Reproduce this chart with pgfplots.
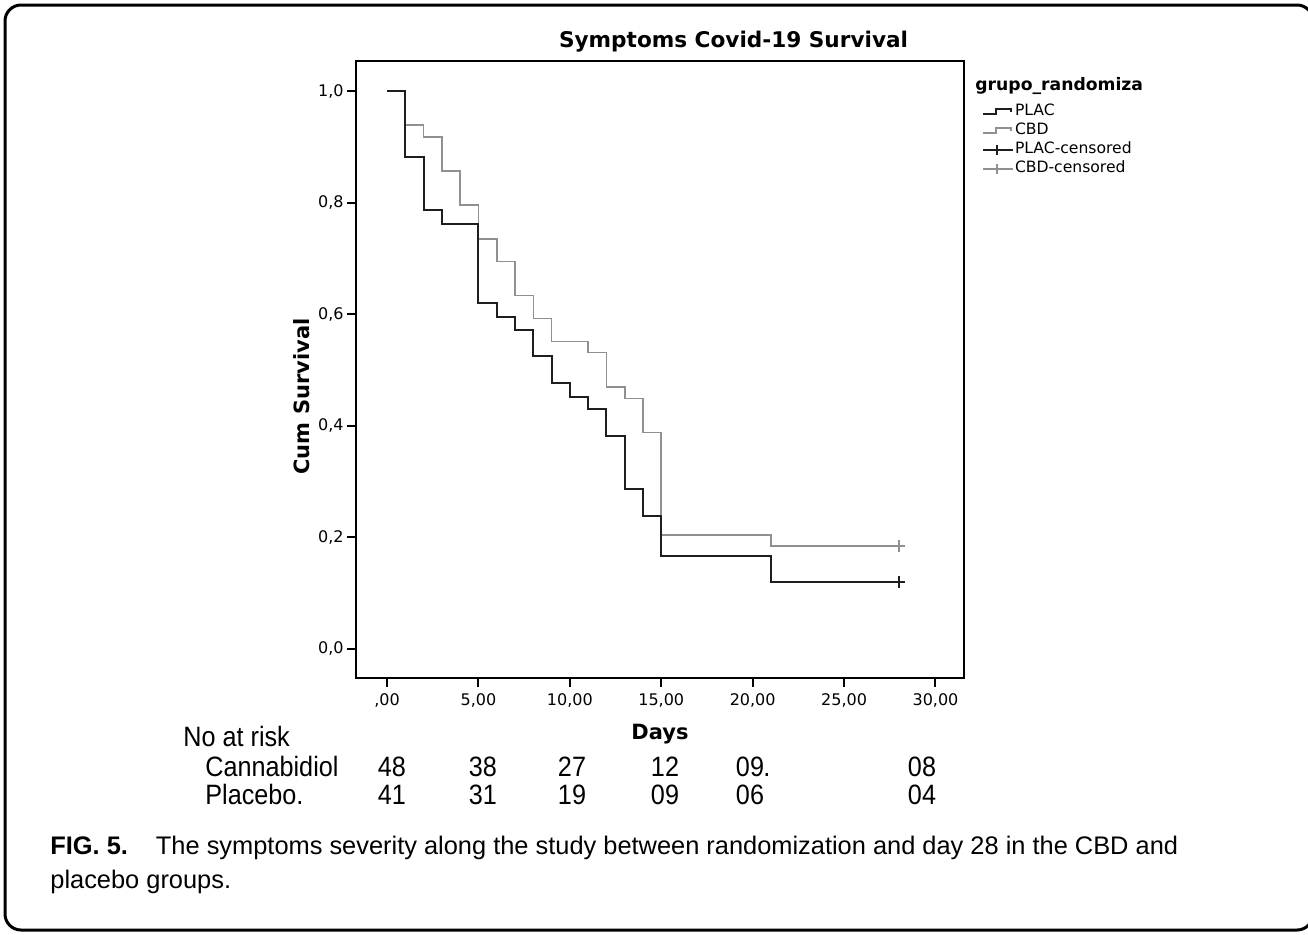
\documentclass[border=0pt]{standalone}
\usepackage{pgfplots}
\pgfplotsset{compat=1.18}
\usepackage{fontspec}
\setmainfont{DejaVu Sans}
\newfontfamily\riskfont[FakeStretch=0.9]{Liberation Sans}
\newfontfamily\capfont{Liberation Sans}
\definecolor{plac}{HTML}{1E1E1E}
\definecolor{cbd}{HTML}{909090}
\begin{document}
\begin{tikzpicture}[x=0.5pt,y=-0.5pt]
\useasboundingbox (0,0) rectangle (1308,934);
\draw[line width=1.5pt, rounded corners=8pt] (5,5) rectangle (1313,930);
\begin{axis}[
  at={(178pt,-339pt)}, anchor=south west,
  scale only axis, width=304pt, height=308.65pt,
  xmin=-1.7, xmax=31.56, ymin=-0.0525, ymax=1.0543,
  axis line style={line width=1pt, black},
  xtick={0,5,10,15,20,25,30},
  xticklabels={{,00},{5,00},{10,00},{15,00},{20,00},{25,00},{30,00}},
  ytick={0,0.2,0.4,0.6,0.8,1},
  yticklabels={{0,0},{0,2},{0,4},{0,6},{0,8},{1,0}},
  tick align=outside, xtick pos=left, ytick pos=left,
  major tick length=4.5pt,
  tick style={line width=1pt, black},
  tick label style={font=\fontsize{8}{9}\selectfont},
  yticklabel style={inner sep=1.5pt},
  clip=false,
  title={Symptoms Covid-19 Survival},
  title style={at={(axis description cs:0.621,1.002)}, anchor=base, font=\bfseries\fontsize{10.8}{12}\selectfont},
  xlabel={Days},
  xlabel style={at={(axis description cs:0.5,-0.1)}, anchor=base, font=\bfseries\fontsize{10.5}{12}\selectfont},
  ylabel={Cum Survival},
  ylabel style={at={(axis description cs:-0.0888,0.456)}, anchor=center, font=\bfseries\fontsize{10.5}{12}\selectfont},
  legend style={at={(axis description cs:1.0296,0.931)}, anchor=north west, draw=none, fill=none,
    font=\fontsize{7.8}{9}\selectfont, inner sep=0pt, row sep=1.5pt,
    nodes={inner sep=0.5pt, text height=5.6pt, text depth=1.4pt}},
  legend cell align=left,
]
\addplot[const plot, cbd, line width=0.8pt, forget plot] coordinates {
(0,1)(1,0.939)(2,0.918)(3,0.857)(4,0.796)(5,0.735)(6,0.694)(7,0.633)(8,0.592)(9,0.551)(11,0.531)(12,0.469)(13,0.449)(14,0.388)(15,0.204)(21,0.184)(28,0.184)};
\addplot[const plot, plac, line width=1pt,
  legend image code/.code={\draw[plac,line width=0.8pt] (0pt,-1.2pt) -- (6.5pt,-1.2pt) -- (6.5pt,1.3pt) -- (14pt,1.3pt) -- (14pt,-0.2pt);}] coordinates {
(0,1)(1,0.881)(2,0.786)(3,0.762)(5,0.619)(6,0.595)(7,0.571)(8,0.524)(9,0.476)(10,0.452)(11,0.429)(12,0.381)(13,0.286)(14,0.238)(15,0.167)(21,0.119)(28,0.119)};
\addlegendentry{PLAC}
\addlegendimage{legend image code/.code={\draw[cbd,line width=0.8pt] (0pt,-1.2pt) -- (6.5pt,-1.2pt) -- (6.5pt,1.3pt) -- (14pt,1.3pt) -- (14pt,-0.2pt);}}
\addlegendentry{CBD}
\addplot[only marks, mark=+, plac, mark size=3pt, line width=1pt,
  legend image code/.code={\draw[plac,line width=0.8pt] (0pt,0pt) -- (15pt,0pt); \draw[plac,line width=0.8pt] (7pt,-2.6pt) -- (7pt,2.6pt);}] coordinates {(28,0.119)};
\addlegendentry{PLAC-censored}
\addplot[only marks, mark=+, cbd, mark size=3pt, line width=1pt,
  legend image code/.code={\draw[cbd,line width=0.8pt] (0pt,0pt) -- (15pt,0pt); \draw[cbd,line width=0.8pt] (7pt,-2.6pt) -- (7pt,2.6pt);}] coordinates {(28,0.184)};
\addlegendentry{CBD-censored}
\end{axis}
\node[anchor=base west, font=\bfseries\fontsize{8.6}{10}\selectfont, inner sep=0pt] at (975,90) {grupo\_randomiza};
% risk table
\begin{scope}[every node/.style={font=\riskfont\fontsize{14}{16}\selectfont, inner sep=0pt}]
\node[anchor=base west] at (183,746) {No at risk};
\node[anchor=base west] at (205,776) {Cannabidiol};
\node[anchor=base west] at (205,804) {Placebo.};
\foreach \x/\a/\b in {392/48/41, 483/38/31, 572/27/19, 665/12/09, 750/09/06, 922/08/04}{
  \node[anchor=base] at (\x,776) {\a};
  \node[anchor=base] at (\x,804) {\b};
}
\node[anchor=base west] at (763,776) {.};
\end{scope}
% caption
\node[anchor=base west, inner sep=0pt, font=\capfont\fontsize{12.7}{16}\selectfont] at (50,854) {\textbf{FIG. 5.}\hspace{1.1em}The symptoms severity along the study between randomization and day 28 in the CBD and};
\node[anchor=base west, inner sep=0pt, font=\capfont\fontsize{12.7}{16}\selectfont] at (50,888) {placebo groups.};
\end{tikzpicture}
\end{document}
